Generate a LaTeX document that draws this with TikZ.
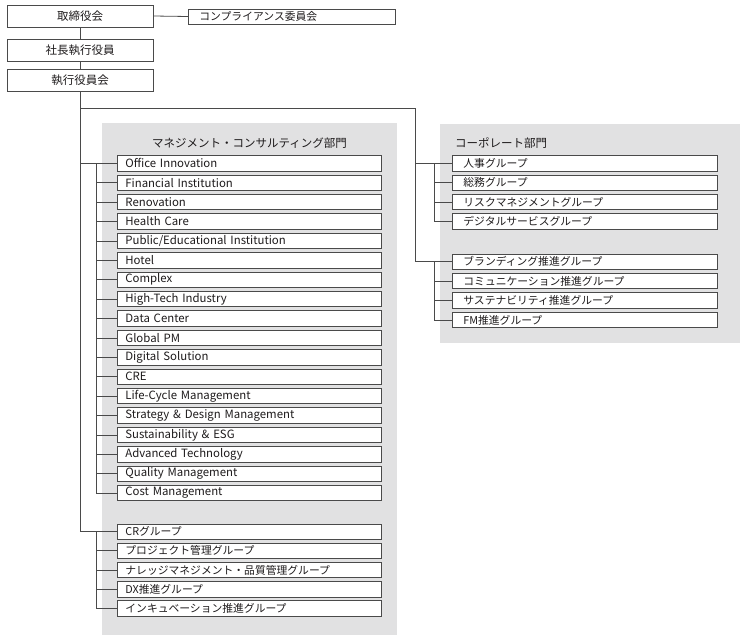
\documentclass[tikz,border=0pt]{standalone}
\usepackage{fontspec}
\setmainfont{Noto Sans CJK JP}
\definecolor{panelc}{HTML}{E1E1E2}
\definecolor{edgec}{HTML}{4A4A4A}
\definecolor{inkc}{HTML}{1E1B1C}
\begin{document}
\begin{tikzpicture}[x=1pt,y=-1pt,
  every node/.style={text=inkc, font=\fontsize{10.8}{12}\selectfont},
  topbox/.style={draw=edgec, line width=0.9pt, fill=white, minimum width=146pt, minimum height=22pt, inner sep=0pt, font=\fontsize{11.5}{13}\selectfont},
  unitbox/.style={draw=edgec, line width=0.8pt, fill=white, anchor=west, text width=248pt, inner xsep=8pt, inner ysep=0pt, minimum height=15.5pt, align=left},
  engbox/.style={unitbox, font=\fontsize{11.4}{12}\selectfont},
  corpbox/.style={unitbox, text width=243pt, inner xsep=11pt},
  conn/.style={draw=edgec, line width=0.8pt},
  paneltitle/.style={font=\fontsize{11.5}{13}\selectfont},
  panelbg/.style={fill=panelc, draw=none}]
\useasboundingbox (0,0) rectangle (750,640);

% panels
\fill[panelbg] (102,123) rectangle (397,635);
\fill[panelbg] (440,124) rectangle (740,343);
\node[paneltitle] (mtitle) at (249.5,143) {マネジメント・コンサルティング部門};
\node[paneltitle, anchor=west, inner xsep=3pt] (ctitle) at (452,143) {コーポレート部門};

% top boxes
\node[topbox] (board) at (80,16) {取締役会};
\node[topbox] (pres) at (80,50.5) {社長執行役員};
\node[topbox] (exec) at (80,80) {執行役員会};
\node[draw=edgec, line width=0.8pt, fill=white, anchor=west, text width=185pt, inner xsep=11pt, inner ysep=0pt, minimum height=15pt, align=left] (comp) at (188,16.5) {コンプライアンス委員会};

% management units
\foreach \n/\t [count=\i from 0] in {
  m0/Office Innovation, m1/Financial Institution, m2/Renovation, m3/Health Care,
  m4/Public\slash Educational Institution, m5/Hotel, m6/Complex, m7/High-Tech Industry,
  m8/Data Center, m9/Global PM, m10/Digital Solution, m11/CRE,
  m12/Life-Cycle Management, m13/Strategy \& Design Management, m14/Sustainability \& ESG,
  m15/Advanced Technology, m16/Quality Management, m17/Cost Management}
  \node[engbox] (\n) at (117,163.3+19.4*\i) {\t};

\foreach \n/\t [count=\i from 0] in {
  g0/CRグループ, g1/プロジェクト管理グループ, g2/ナレッジマネジメント・品質管理グループ,
  g3/DX推進グループ, g4/インキュベーション推進グループ}
  \node[unitbox] (\n) at (117,531.7+19.15*\i) {\t};

% corporate units
\foreach \n/\t [count=\i from 0] in {
  c0/人事グループ, c1/総務グループ, c2/リスクマネジメントグループ, c3/デジタルサービスグループ}
  \node[corpbox] (\n) at (452,163.3+19.4*\i) {\t};
\foreach \n/\t [count=\i from 0] in {
  d0/ブランディング推進グループ, d1/コミュニケーション推進グループ, d2/サステナビリティ推進グループ, d3/FM推進グループ}
  \node[corpbox] (\n) at (452,261.7+19.4*\i) {\t};

% coordinates
\coordinate (j1) at (exec.south |- 0,108);
\coordinate (cv) at (415,108);
\coordinate (mi) at (96,0);
\coordinate (ci) at (434,0);

% connectors
\draw[conn] (board.east) -- (comp.west);
\draw[conn] (board.south) -- (pres.north);
\draw[conn] (pres.south) -- (exec.north);
\draw[conn] (exec.south) |- (g0.west);
\draw[conn] (exec.south |- m0.west) -- (m0.west);
\draw[conn] (j1) -- (cv) |- (d0.west);
\draw[conn] (cv |- c0.west) -- (c0.west);

\draw[conn] (mi |- m0.west) -- (mi |- m17.west);
\foreach \n in {m1,m2,m3,m4,m5,m6,m7,m8,m9,m10,m11,m12,m13,m14,m15,m16,m17}
  \draw[conn] (mi |- \n.west) -- (\n.west);
\draw[conn] (mi |- g0.west) -- (mi |- g4.west);
\foreach \n in {g1,g2,g3,g4}
  \draw[conn] (mi |- \n.west) -- (\n.west);

\draw[conn] (ci |- c0.west) -- (ci |- c3.west);
\foreach \n in {c1,c2,c3}
  \draw[conn] (ci |- \n.west) -- (\n.west);
\draw[conn] (ci |- d0.west) -- (ci |- d3.west);
\foreach \n in {d1,d2,d3}
  \draw[conn] (ci |- \n.west) -- (\n.west);
\end{tikzpicture}
\end{document}
